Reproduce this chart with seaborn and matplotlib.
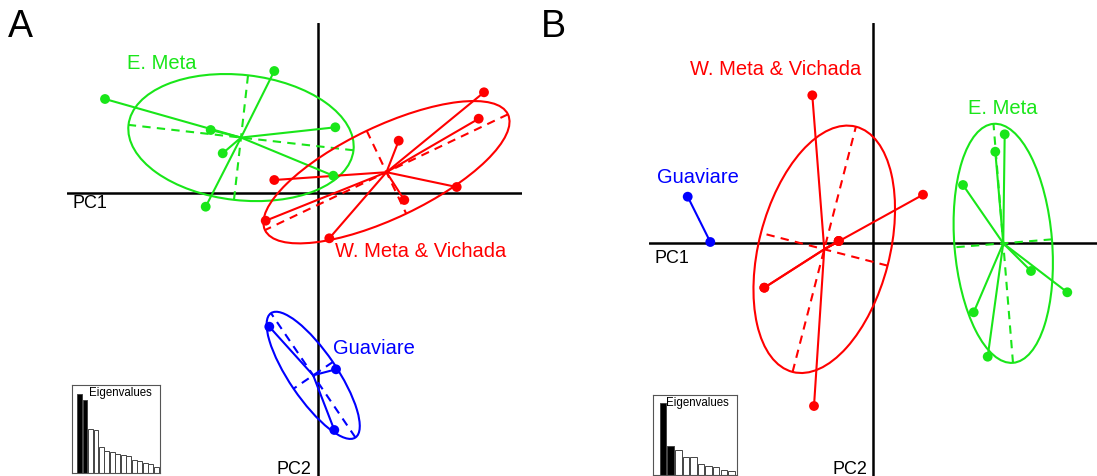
import numpy as np
import pandas as pd
import matplotlib
matplotlib.use("Agg")
import matplotlib.pyplot as plt
from matplotlib.patches import Ellipse
import seaborn as sns

# -----------------------------
# Data (scores)
# -----------------------------
groups = ["E. Meta", "W. Meta & Vichada", "Guaviare"]
colors = {"E. Meta": "#19e619", "W. Meta & Vichada": "#ff0000", "Guaviare": "#0000ff"}

# panel A
pc1_a = [-2.127, -0.434, -1.070, 0.176, -0.950, 0.156, -1.120,
         1.663, 1.610, 0.810, -0.434, 1.390, 0.866, -0.520, 0.116,
         -0.484, 0.183, 0.166]
pc2_a = [0.937, 1.217, 0.627, 0.654, 0.394, 0.170, -0.140,
         1.004, 0.740, 0.520, 0.127, 0.057, -0.073, -0.280, -0.456,
         -1.340, -1.766, -2.373]
group_a = ["E. Meta"] * 7 + ["W. Meta & Vichada"] * 8 + ["Guaviare"] * 3

# panel B (some individuals overlap)
pc1_b = [1.314, 1.220, 0.897, 1.577, 1.940, 1.004, 1.144,
         -0.610, 0.497, -0.346, -0.346, -0.346, -1.090, -1.090, -0.593,
         -1.856, -1.630]
pc2_b = [1.084, 0.910, 0.577, -0.283, -0.496, -0.696, -1.140,
         1.474, 0.480, 0.017, 0.017, 0.017, -0.450, -0.450, -1.633,
         0.460, 0.007]
group_b = ["E. Meta"] * 7 + ["W. Meta & Vichada"] * 8 + ["Guaviare"] * 2

eig_a = [7.93, 7.33, 4.40, 4.30, 2.57, 2.17, 2.07, 1.90, 1.83, 1.67, 1.33, 1.20, 1.00, 0.90, 0.63]
eig_b = [7.17, 2.93, 2.50, 1.83, 1.80, 1.10, 0.87, 0.80, 0.53, 0.43]
n_retained = 2

df_a = pd.DataFrame({"PC1": pc1_a, "PC2": pc2_a, "group": group_a})
df_b = pd.DataFrame({"PC1": pc1_b, "PC2": pc2_b, "group": group_b})

# -----------------------------
# Style
# -----------------------------
sns.set_style("white")
plt.rcParams["font.family"] = ["Liberation Sans", "DejaVu Sans"]
plt.rcParams["text.color"] = "black"

fig = plt.figure(figsize=(10.97, 4.76), dpi=100)
W, H = 1097, 476


def draw_groups(ax, df):
    for g in groups:
        pts = df.loc[df["group"] == g, ["PC1", "PC2"]].to_numpy()
        c = pts.mean(axis=0)
        col = colors[g]
        # star: centre to each individual
        for p in pts:
            ax.plot([c[0], p[0]], [c[1], p[1]], color=col, lw=1.5, zorder=2)
        # inertia ellipse (1.5 sd) with its axes
        if len(pts) >= 3:
            cov = np.cov(pts.T, bias=True)
            vals, vecs = np.linalg.eigh(cov)
            half = 1.5 * np.sqrt(vals)
            ang = np.degrees(np.arctan2(vecs[1, 1], vecs[0, 1]))
            ax.add_patch(Ellipse(c, 2 * half[1], 2 * half[0], angle=ang,
                                 fill=False, ec=col, lw=1.5, zorder=2))
            for k in range(2):
                a = c - half[k] * vecs[:, k]
                b = c + half[k] * vecs[:, k]
                ax.plot([a[0], b[0]], [a[1], b[1]], color=col, lw=1.5,
                        ls=(0, (4, 3)), zorder=2)
    sns.scatterplot(data=df, x="PC1", y="PC2", hue="group", palette=colors,
                    s=50, linewidth=0, legend=False, ax=ax, zorder=3)


def eig_inset(rect, vals):
    ax = fig.add_axes(rect)
    labels = [str(i) for i in range(len(vals))]
    pal = {l: ("black" if i < n_retained else "white") for i, l in enumerate(labels)}
    sns.barplot(x=labels, y=vals, hue=labels, palette=pal, legend=False,
                edgecolor="#444444", linewidth=0.7, width=0.86, ax=ax)
    ax.set_xlim(-1.3, len(vals) - 0.3)
    ax.set_ylim(0, max(vals) * 1.115)
    ax.set_xticks([])
    ax.set_yticks([])
    ax.set_xlabel("")
    ax.set_ylabel("")
    for s in ax.spines.values():
        s.set_visible(True)
        s.set_color("#555555")
        s.set_linewidth(0.8)
    ax.text(0.905, 0.975, "Eigenvalues", transform=ax.transAxes, ha="right",
            va="top", fontsize=8.3)
    return ax


# -----------------------------
# Panel A
# -----------------------------
ax1 = fig.add_axes([67.3 / W, 0, 454.4 / W, 453 / H])
ax1.set_xlim(-2.504, 2.040)
ax1.set_ylim(-2.833, 1.697)
ax1.axhline(0, color="black", lw=1.8, zorder=1)
ax1.axvline(0, color="black", lw=1.8, zorder=1)
draw_groups(ax1, df_a)
ax1.set_axis_off()
ax1.text(-2.457, -0.153, "PC1", fontsize=13, va="baseline")
ax1.text(-0.06, -2.81, "PC2", fontsize=13, va="baseline", ha="right")
ax1.text(-1.907, 1.234, "E. Meta", color=colors["E. Meta"], fontsize=14.5, va="baseline")
ax1.text(0.173, -0.640, "W. Meta & Vichada", color=colors["W. Meta & Vichada"],
         fontsize=14.5, va="baseline")
ax1.text(0.156, -1.616, "Guaviare", color=colors["Guaviare"], fontsize=14.5, va="baseline")
eig_inset([72.3 / W, 3 / H, 87.7 / W, 88.3 / H], eig_a)

# -----------------------------
# Panel B
# -----------------------------
ax2 = fig.add_axes([649 / W, 0, 448 / W, 453 / H])
ax2.set_xlim(-2.243, 2.237)
ax2.set_ylim(-2.333, 2.197)
ax2.axhline(0, color="black", lw=1.8, zorder=1)
ax2.axvline(0, color="black", lw=1.8, zorder=1)
draw_groups(ax2, df_b)
ax2.set_axis_off()
ax2.text(-2.193, -0.203, "PC1", fontsize=13, va="baseline")
ax2.text(-0.055, -2.31, "PC2", fontsize=13, va="baseline", ha="right")
ax2.text(0.950, 1.287, "E. Meta", color=colors["E. Meta"], fontsize=14.5, va="baseline")
ax2.text(-1.833, 1.677, "W. Meta & Vichada", color=colors["W. Meta & Vichada"],
         fontsize=14.5, va="baseline")
ax2.text(-2.160, 0.600, "Guaviare", color=colors["Guaviare"], fontsize=14.5, va="baseline")
eig_inset([653.3 / W, 1 / H, 83.4 / W, 80.3 / H], eig_b)

# panel letters
fig.text(8 / W, 1 - 37 / H, "A", fontsize=27, va="baseline")
fig.text(541 / W, 1 - 37 / H, "B", fontsize=27, va="baseline")

fig.savefig("out.png", dpi=100)
